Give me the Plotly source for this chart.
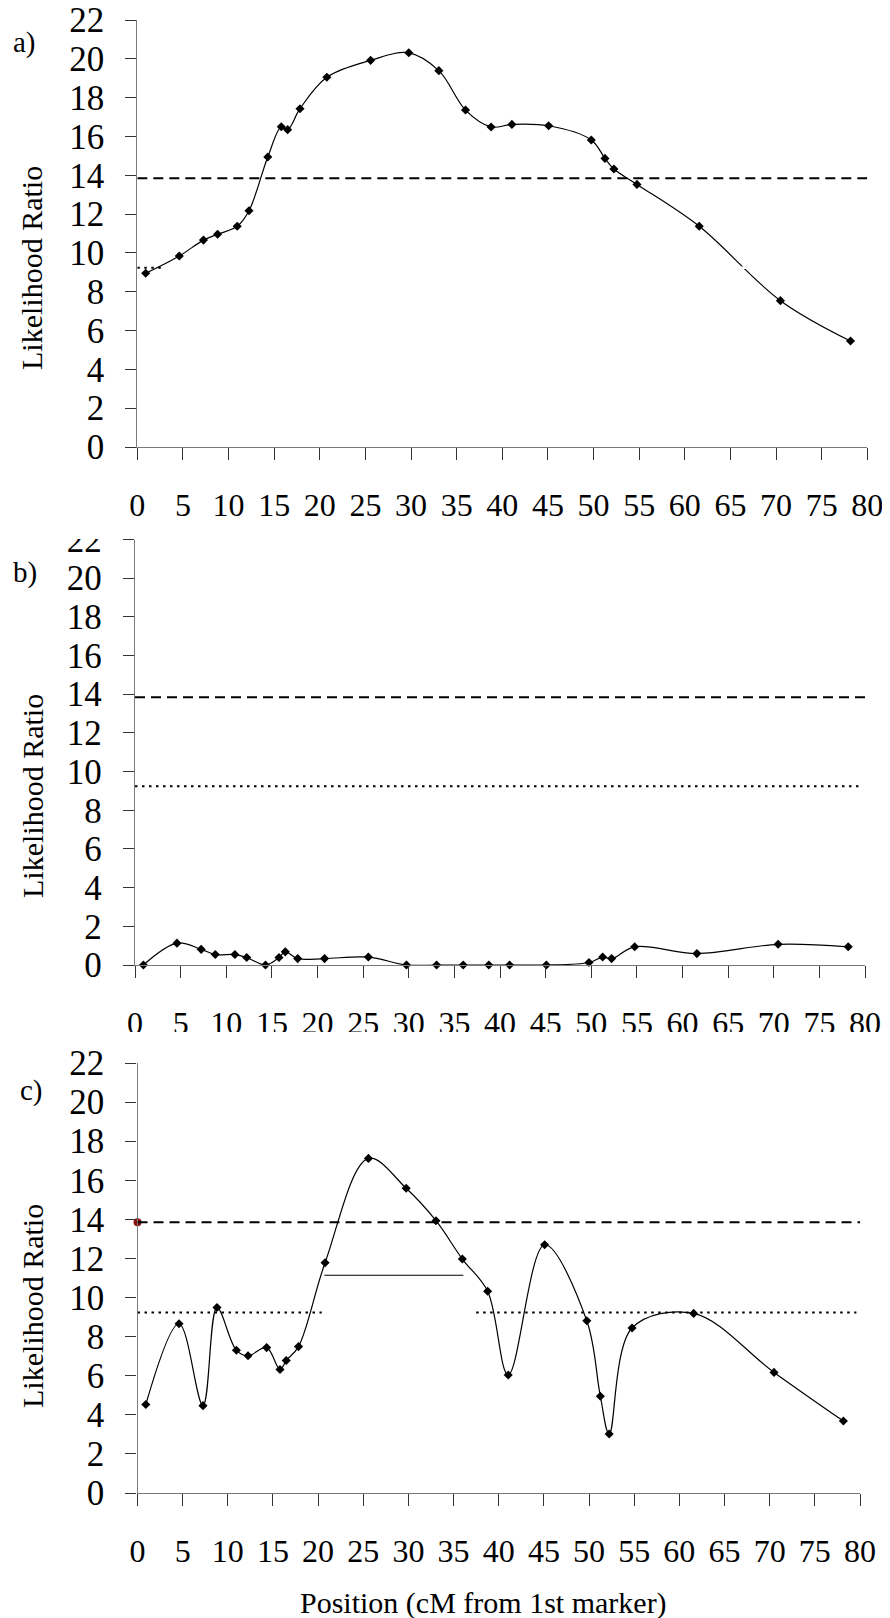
import plotly.graph_objects as go

# marker positions (cM) shared by all three scans
positions = [0.92, 4.6, 7.25, 8.8, 10.95, 12.24, 14.3, 15.78, 16.47, 17.83, 20.77, 25.57, 29.75,
             33.05, 35.97, 38.77, 41.05, 45.08, 49.75, 51.25, 52.23, 54.76, 61.58, 70.48, 78.16]
lr_a = [8.95, 9.84, 10.66, 10.96, 11.37, 12.17, 14.94, 16.5, 16.35, 17.43, 19.05, 19.92, 20.31,
        19.39, 17.36, 16.49, 16.62, 16.55, 15.82, 14.87, 14.32, 13.53, 11.37, 7.54, 5.46]
lr_b = [0, 1.13, 0.81, 0.54, 0.54, 0.39, 0, 0.39, 0.68, 0.33, 0.33, 0.41, 0,
        0, 0, 0, 0, 0, 0.13, 0.41, 0.33, 0.94, 0.59, 1.07, 0.94]
lr_c = [4.53, 8.66, 4.47, 9.49, 7.30, 7.02, 7.44, 6.32, 6.78, 7.49, 11.78, 17.12, 15.59,
        13.93, 11.97, 10.32, 6.04, 12.70, 8.81, 4.95, 3.02, 8.44, 9.19, 6.17, 3.68]

panel_labels = ["a)", "b)", "c)"]
x_ticks = list(range(0, 81, 5))
y_ticks = list(range(0, 23, 2))

thr_dashed = 13.85
thr_dotted = 9.24
ci_level = 11.14
ci_range = [20.69, 36.08]

FONT = "Liberation Serif, Times New Roman, serif"
OFF = 8  # the page body margin moves the plot div by 8px
W, H = 890 - OFF, 1618 - OFF


def px(x):
    return (x - OFF) / W


def py(y):
    return 1 - (y - OFF) / H


# pixel boxes of the three plot areas in the page: left, right, top, bottom
boxes = [(137.3, 867.3, 20, 447), (135, 865, 539.5, 965), (137.5, 860, 1063, 1493)]
ytitle_y = [268, 796, 1306]
label_pos = [(24, 43), (25, 572), (31, 1090)]

fig = go.Figure()
series = [lr_a, lr_b, lr_c]
for i, (vals, box) in enumerate(zip(series, boxes)):
    n = "" if i == 0 else str(i + 1)
    l, r, t, b = box
    fig.add_trace(go.Scatter(
        x=positions, y=vals, xaxis="x" + n, yaxis="y" + n,
        mode="lines+markers", cliponaxis=False,
        line=dict(color="black", width=1.2, shape="spline", smoothing=1),
        marker=dict(symbol="diamond", size=7, color="black"),
        showlegend=False))
    axis_common = dict(showgrid=False, zeroline=False, showline=True, linecolor="#7a7a7a",
                       linewidth=1.3, ticks="outside", tickcolor="#333", tickwidth=1.2,
                       automargin=False, ticklabeloverflow="allow",
                       tickfont=dict(family=FONT, size=32, color="black"))
    fig.update_layout({
        "xaxis" + n: dict(axis_common, domain=[px(l), px(r)], range=[0, 80], tickvals=x_ticks,
                          ticklen=12, ticklabelstandoff=17, anchor="y" + n),
        "yaxis" + n: dict(axis_common, domain=[py(b), py(t)], range=[0, 22], tickvals=y_ticks,
                          ticklen=11, ticklabelstandoff=14, anchor="x" + n,
                          tickfont=dict(family=FONT, size=35, color="black")),
    })
    fig.add_annotation(text="Likelihood Ratio", textangle=-90, xref="paper", yref="paper",
                       x=px(32), y=py(ytitle_y[i]), xanchor="center", yanchor="middle",
                       showarrow=False, font=dict(family=FONT, size=30, color="black"))
    fig.add_annotation(text=panel_labels[i], xref="paper", yref="paper",
                       x=px(label_pos[i][0]), y=py(label_pos[i][1]), xanchor="center", yanchor="middle",
                       showarrow=False, font=dict(family=FONT, size=29, color="black"))
    fig.add_shape(type="line", xref="x" + n, yref="y" + n, x0=0, x1=80, y0=thr_dashed, y1=thr_dashed,
                  line=dict(color="black", width=2, dash="10px,6px"))

# dotted 5% lines
dotted = dict(color="black", width=2, dash="2.5px,4.5px")
fig.add_shape(type="line", xref="x2", yref="y2", x0=0, x1=79.6, y0=thr_dotted, y1=thr_dotted, line=dotted)
fig.add_shape(type="line", xref="x3", yref="y3", x0=0, x1=20.4, y0=thr_dotted, y1=thr_dotted, line=dotted)
fig.add_shape(type="line", xref="x3", yref="y3", x0=37.5, x1=79.6, y0=thr_dotted, y1=thr_dotted, line=dotted)
# panel a: the dotted line was drawn in white, only a stub remains
fig.add_shape(type="line", xref="x", yref="y", x0=2.8, x1=80, y0=thr_dotted, y1=thr_dotted,
              layer="above", line=dict(color="white", width=2.5))
fig.add_shape(type="line", xref="x", yref="y", x0=0, x1=2.8, y0=thr_dotted, y1=thr_dotted,
              layer="above", line=dotted)

# support interval in panel c
fig.add_shape(type="line", xref="x3", yref="y3", x0=ci_range[0], x1=ci_range[1], y0=ci_level, y1=ci_level,
              line=dict(color="black", width=1))
fig.add_trace(go.Scatter(x=[0], y=[thr_dashed], xaxis="x3", yaxis="y3", mode="markers", cliponaxis=False,
                         marker=dict(size=8, color="#8b1010"), showlegend=False))

# cropped edges from the original figure
fig.add_shape(type="rect", xref="paper", yref="paper", x0=0, x1=px(133), y0=py(539), y1=py(519),
              layer="above", fillcolor="white", line=dict(width=0))
fig.add_shape(type="rect", xref="paper", yref="paper", x0=0, x1=1, y0=py(1050), y1=py(1032),
              layer="above", fillcolor="white", line=dict(width=0))

fig.add_annotation(text="Position (cM from 1st marker)", xref="paper", yref="paper",
                   x=px(483), y=py(1603), xanchor="center", yanchor="middle", showarrow=False,
                   font=dict(family=FONT, size=30, color="black"))

fig.update_layout(width=W, height=H, margin=dict(l=0, r=0, t=0, b=0), template="none",
                  plot_bgcolor="white", paper_bgcolor="white")

fig.write_html("out.html")
